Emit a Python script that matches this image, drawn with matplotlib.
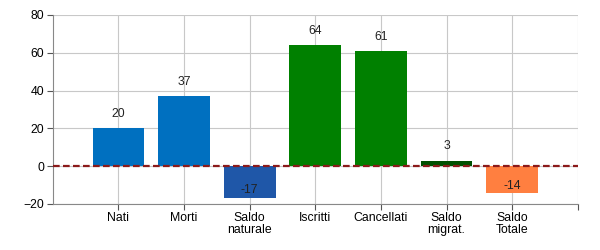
import matplotlib.pyplot as plt
from matplotlib import rcParams

rcParams['font.family'] = ['Liberation Sans', 'DejaVu Sans']

# Dati
categorie = ["Nati", "Morti", "Saldo\nnaturale", "Iscritti", "Cancellati", "Saldo\nmigrat.", "Saldo\nTotale"]
valori = [20, 37, -17, 64, 61, 3, -14]
colori = ["#0070C0", "#0070C0", "#1F57A8", "#008000", "#008000", "#005000", "#FF7F40"]

fig = plt.figure(figsize=(6, 2.5), dpi=100)
ax = fig.add_axes([0.088, 0.184, 0.875, 0.756])

pos = list(range(1, len(categorie) + 1))
ax.bar(pos, valori, width=0.79, color=colori, zorder=2)

# Etichette dei valori
for x, v in zip(pos, valori):
    if v >= 0:
        ax.annotate(str(v), (x, v), xytext=(0, 6), textcoords="offset points",
                    ha="center", va="bottom", fontsize=8.8, color="#222222")
    else:
        ax.text(x, v * 0.75, str(v), ha="center", va="center", fontsize=8.8, color="#222222")

# Linea dello zero
ax.axhline(0, color="#8B1A1A", linestyle=(0, (3, 1.5)), linewidth=1.6, zorder=3)

ax.set_xlim(0, 8)
ax.set_ylim(-20, 80)
ax.set_xticks(pos + [8])
ax.set_xticklabels(categorie + [""], fontsize=8.8, linespacing=1.0)
ax.set_yticks([-20, 0, 20, 40, 60, 80])
ax.tick_params(axis="both", labelsize=8.8, length=4, color="#555555", pad=2)
ax.grid(True, color="#C8C8C8", linewidth=0.8, zorder=0)
ax.set_axisbelow(True)

for lato in ["top", "right"]:
    ax.spines[lato].set_visible(False)
for lato in ["left", "bottom"]:
    ax.spines[lato].set_color("#888888")

plt.savefig("out.png", dpi=100)
